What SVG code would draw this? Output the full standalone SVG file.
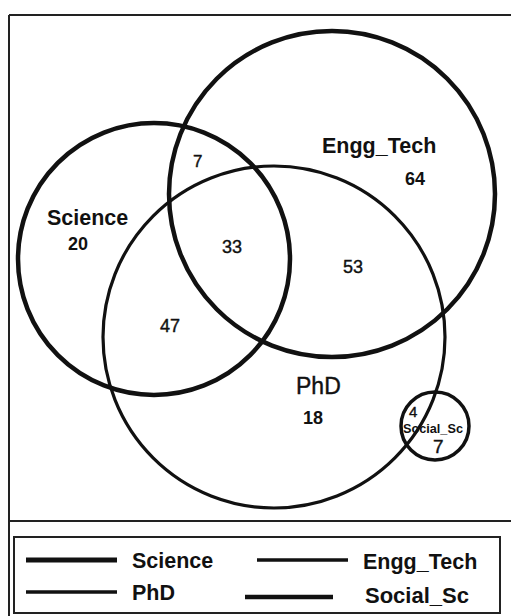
<svg xmlns="http://www.w3.org/2000/svg" width="511" height="616" viewBox="0 0 511 616">
<style>
.c{fill:none;stroke:#111}
.t{font-family:"Liberation Sans",Arial,sans-serif;fill:#111}
.b{font-weight:bold}
.m{stroke:#111;stroke-width:0.4}
.frame{stroke:#222;fill:none}
</style>
<rect width="511" height="616" fill="#fff"/>
<g id="frame">
<line class="frame" x1="9" y1="15" x2="511" y2="15" stroke-width="2"/>
<line class="frame" x1="9" y1="15" x2="9" y2="616" stroke-width="2"/>
<line class="frame" x1="9" y1="521" x2="511" y2="521" stroke-width="2"/>
<rect class="frame" x="14" y="537" width="486" height="76" stroke-width="2"/>
</g>
<g id="science">
<circle class="c" cx="154" cy="259" r="136" stroke-width="4.5"/>
<text class="t b" x="47" y="225" font-size="21.5">Science</text>
<text class="t b" x="68" y="250" font-size="18">20</text>
</g>
<g id="engg_tech">
<circle class="c" cx="332" cy="194" r="163" stroke-width="4.5"/>
<text class="t b" x="322" y="153" font-size="21.5">Engg_Tech</text>
<text class="t b" x="405" y="185" font-size="18">64</text>
</g>
<g id="phd">
<circle class="c" cx="274" cy="337" r="171" stroke-width="3.2"/>
<text class="t m" x="296" y="394" font-size="23">PhD</text>
<text class="t b" x="303" y="424" font-size="18">18</text>
</g>
<g id="social_sc">
<circle class="c" cx="435" cy="426" r="34" stroke-width="3.5"/>
<text class="t m" x="409" y="417" font-size="15">4</text>
<text class="t b" x="403" y="433" font-size="12.7">Social_Sc</text>
<text class="t m" x="433" y="453" font-size="19">7</text>
</g>
<g id="overlaps">
<text class="t m" x="193" y="167" font-size="17">7</text>
<text class="t m" x="222" y="253" font-size="18">33</text>
<text class="t m" x="343" y="273" font-size="18">53</text>
<text class="t m" x="160" y="332" font-size="18">47</text>
</g>
<g id="legend">
<line x1="26" y1="560" x2="117" y2="560" stroke="#111" stroke-width="5"/>
<text class="t b" x="132" y="568" font-size="21.5">Science</text>
<line x1="26" y1="592" x2="117" y2="592" stroke="#111" stroke-width="3.5"/>
<text class="t b" x="132" y="600" font-size="21.5">PhD</text>
<line x1="257" y1="560" x2="348" y2="560" stroke="#111" stroke-width="3.5"/>
<text class="t b" x="363" y="569" font-size="21.5">Engg_Tech</text>
<line x1="245" y1="597" x2="333" y2="597" stroke="#111" stroke-width="4.5"/>
<text class="t b" x="365" y="603" font-size="22">Social_Sc</text>
</g>
</svg>
